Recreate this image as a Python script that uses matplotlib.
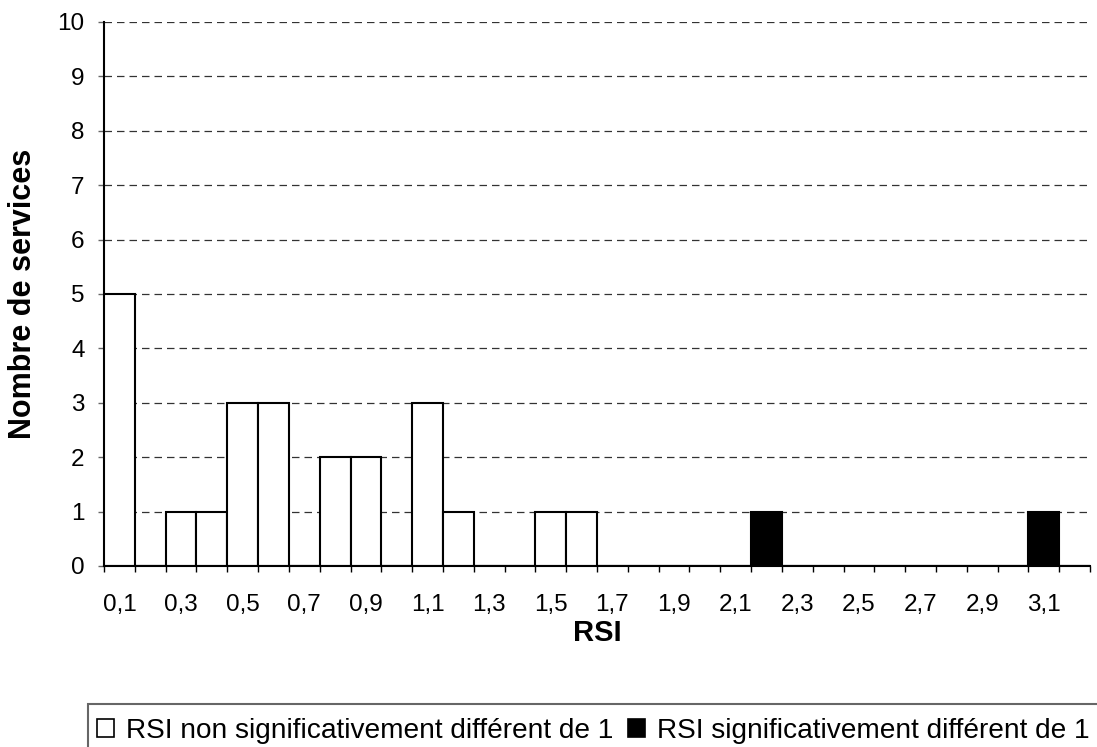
import numpy as np
import matplotlib.pyplot as plt
from matplotlib.patches import Rectangle, Patch

plt.rcParams['font.family'] = ['Liberation Sans', 'DejaVu Sans']

# RSI classes 0,1 .. 3,2
rsi = [f"{v / 10:.1f}".replace('.', ',') for v in range(1, 33)]
non_sig = [5, 0, 1, 1, 3, 3, 0, 2, 2, 0, 3, 1, 0, 0, 1, 1,
           0, 0, 0, 0, 0, 0, 0, 0, 0, 0, 0, 0, 0, 0, 0, 0]
sig = [0, 0, 0, 0, 0, 0, 0, 0, 0, 0, 0, 0, 0, 0, 0, 0,
       0, 0, 0, 0, 0, 1, 0, 0, 0, 0, 0, 0, 0, 0, 1, 0]

fig = plt.figure(figsize=(10.97, 7.47), dpi=100)
ax = fig.add_axes([104 / 1097, 1 - 566 / 747, 986 / 1097, 544 / 747])

x = np.arange(len(rsi))
ax.bar(x, non_sig, width=1.0, color='white', edgecolor='black', linewidth=1.5, zorder=3)
ax.bar(x, sig, width=1.0, color='black', edgecolor='black', linewidth=1.5, zorder=3)

ax.set_xlim(-0.5, len(rsi) - 0.5)
ax.set_ylim(0, 10)
ax.set_yticks(range(0, 11))
ax.yaxis.grid(True, linestyle=(0, (6, 4)), color='#333333', linewidth=0.9)
ax.set_axisbelow(True)

# ticks on class boundaries, labels every other class
ax.set_xticks(np.arange(-0.5, len(rsi), 1.0))
ax.set_xticklabels([])
ax.set_xticks(x[::2], minor=True)
ax.set_xticklabels(rsi[::2], minor=True)
ax.tick_params(axis='x', which='major', length=4, width=1, direction='out', color='black')
ax.tick_params(axis='x', which='minor', length=0, labelsize=17.5, pad=20)
ax.tick_params(axis='y', length=4, width=1, color='#666666', labelsize=17.5, pad=10)

for side in ['top', 'right']:
    ax.spines[side].set_visible(False)
ax.spines['left'].set_linewidth(1.5)
ax.spines['bottom'].set_linewidth(1.5)

ax.set_xlabel('RSI', fontsize=21, fontweight='bold', labelpad=2)
ax.set_ylabel('Nombre de services', fontsize=22, fontweight='bold', labelpad=14)

# legend box running off the page
fig.patches.append(Rectangle((88 / 1097, -0.05), 1.05, 1 - 704 / 747 + 0.05,
                             transform=fig.transFigure, fill=False,
                             edgecolor='#666666', linewidth=1.5))
handles = [Patch(facecolor='white', edgecolor='black', linewidth=1.2),
           Patch(facecolor='black', edgecolor='black', linewidth=1.2)]
fig.legend(handles, ['RSI non significativement différent de 1',
                     'RSI significativement différent de 1'],
           loc='center left', bbox_to_anchor=(97 / 1097, 1 - 731 / 747),
           ncol=2, frameon=False, fontsize=20.2, handlelength=0.6, handleheight=0.6,
           handletextpad=0.43, columnspacing=0.54, borderpad=0, borderaxespad=0)

fig.savefig('out.png', dpi=100)
